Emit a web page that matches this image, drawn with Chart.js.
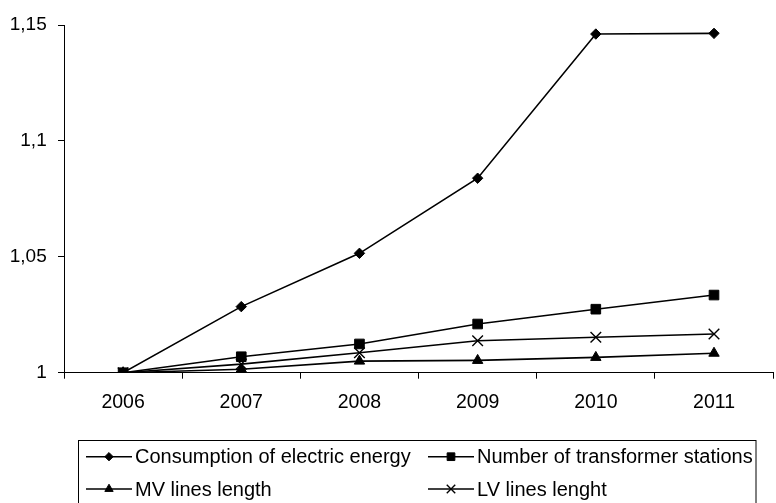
<!DOCTYPE html>
<html>
<head>
    <title>Growth indices 2006-2011</title>
    <style>
        body {
            margin: 0;
            padding: 0;
            background: #ffffff;
            overflow: hidden;
        }
        #chart-container {
            position: relative;
            width: 776px;
            height: 503px;
            overflow: hidden;
        }
        canvas {
            position: absolute;
            left: 0;
            top: 0;
        }
    </style>
</head>
<body>
<div id="chart-container">
    <canvas id="chart" width="782" height="503"></canvas>
</div>
<script src="https://cdn.jsdelivr.net/npm/chart.js"></script>
<script>
    // Years on the x axis
    const years = ['2006', '2007', '2008', '2009', '2010', '2011'];

    // Series values (index, 2006 = 1)
    const consumption = [1, 1.0285, 1.0515, 1.0839, 1.1461, 1.1464];
    const transformers = [1, 1.0069, 1.0124, 1.021, 1.0274, 1.0335];
    const mvLines = [1, 1.0015, 1.005, 1.0053, 1.0066, 1.0084];
    const lvLines = [1, 1.0037, 1.0086, 1.0138, 1.0153, 1.0167];

    // Y axis ticks
    const yTicks = [1, 1.05, 1.1, 1.15];

    const seriesNames = [
      'Consumption of electric energy',
      'Number of transformer stations',
      'MV lines length',
      'LV lines lenght',
    ];

    const FONT = '"Liberation Sans", Arial, sans-serif';

    function makeSet(label, data, style, radius) {
      return {
        label: label,
        data: data,
        borderColor: '#000',
        backgroundColor: '#000',
        borderWidth: 1.6,
        pointStyle: style,
        pointRadius: radius,
        pointHoverRadius: radius,
        pointBorderWidth: style === 'crossRot' ? 1.4 : 1,
        pointBackgroundColor: '#000',
        pointBorderColor: '#000',
        tension: 0,
        fill: false,
      };
    }

    // Legend drawn below the plot: line + marker, two columns
    const boxLegend = {
      id: 'boxLegend',
      afterDraw(chart) {
        const ctx = chart.ctx;
        ctx.save();
        ctx.strokeStyle = '#000';
        ctx.lineWidth = 1;
        ctx.strokeRect(78.5, 440.5, 677.5, 80);

        const cols = [86, 428];
        const rows = [456.7, 489];
        const order = [[0, 0, 0], [1, 1, 0], [2, 0, 1], [3, 1, 1]];
        ctx.font = '20px ' + FONT;
        ctx.textBaseline = 'middle';
        ctx.textAlign = 'left';
        order.forEach(([i, c, r]) => {
          const ds = chart.data.datasets[i];
          const x = cols[c];
          const y = rows[r];
          ctx.strokeStyle = '#000';
          ctx.lineWidth = 1.6;
          ctx.beginPath();
          ctx.moveTo(x, y);
          ctx.lineTo(x + 46, y);
          ctx.stroke();
          const opts = {
            pointStyle: ds.pointStyle,
            radius: ds.pointRadius * 0.8,
            borderWidth: ds.pointBorderWidth,
          };
          ctx.fillStyle = '#000';
          ctx.strokeStyle = '#000';
          ctx.lineWidth = ds.pointBorderWidth;
          Chart.helpers.drawPoint(ctx, opts, x + 23, y);
          ctx.fillStyle = '#000';
          ctx.fillText(ds.label, x + 49, y + 1);
        });
        ctx.restore();
      },
    };

    const ctx = document.getElementById('chart').getContext('2d');

    const chart = new Chart(ctx, {
      type: 'line',
      data: {
        labels: years,
        datasets: [
          makeSet(seriesNames[0], consumption, 'rectRot', 5.2),
          makeSet(seriesNames[1], transformers, 'rect', 6.8),
          makeSet(seriesNames[2], mvLines, 'triangle', 6),
          makeSet(seriesNames[3], lvLines, 'crossRot', 7.5),
        ],
      },
      options: {
        responsive: false,
        animation: false,
        layout: {
          padding: { top: 25, left: 0, right: 1.6, bottom: 0 },
        },
        scales: {
          x: {
            offset: true,
            grid: {
              offset: true,
              drawOnChartArea: false,
              tickLength: 6,
              color: '#000',
            },
            border: { color: '#000', width: 1 },
            ticks: {
              color: '#000',
              padding: 12,
              maxRotation: 0,
              font: { family: FONT, size: 19.5 },
            },
            afterFit(scale) {
              scale.height = 130.3;
            },
          },
          y: {
            min: yTicks[0],
            max: yTicks[yTicks.length - 1],
            afterBuildTicks(scale) {
              scale.ticks = yTicks.map(v => ({ value: v }));
            },
            grid: {
              drawOnChartArea: false,
              tickLength: 6,
              color: '#000',
            },
            border: { color: '#000', width: 1 },
            ticks: {
              color: '#000',
              padding: 11.3,
              font: { family: FONT, size: 19 },
              callback: v => String(Math.round(v * 100) / 100).replace('.', ','),
            },
            afterFit(scale) {
              scale.width = 64;
            },
          },
        },
        plugins: {
          legend: { display: false },
          tooltip: { enabled: false },
        },
      },
      plugins: [boxLegend],
    });
</script>
</body>
</html>
